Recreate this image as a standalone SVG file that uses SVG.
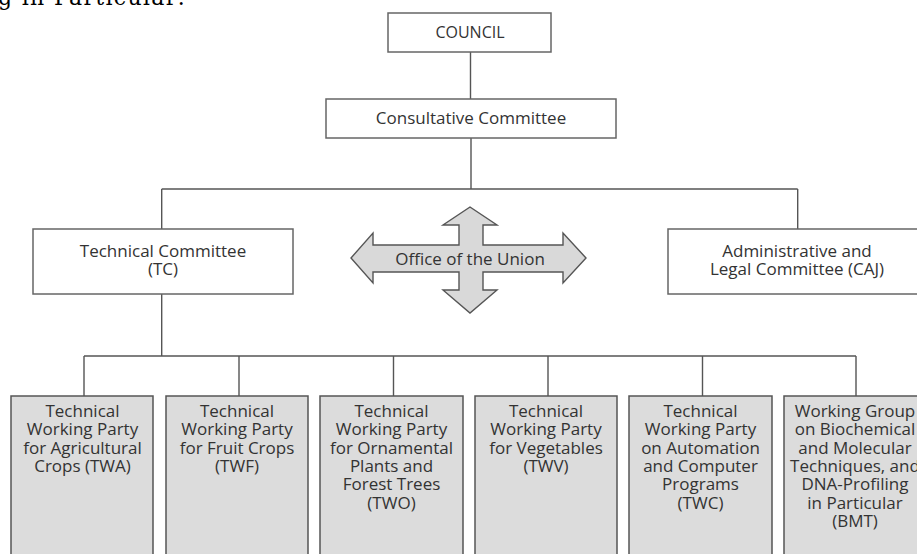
<svg xmlns="http://www.w3.org/2000/svg" width="917" height="554" viewBox="0 0 917 554">
<style>
.box{fill:#fff;stroke:#666;stroke-width:1.5}
.gbox{fill:#dcdcdc;stroke:#555;stroke-width:1.5}
.ln{fill:none;stroke:#555;stroke-width:1.4}
text{font-family:"Open Sans","Noto Sans",sans-serif;font-size:17px;fill:#333;text-anchor:middle}
.frag{font-family:"DejaVu Serif",serif;font-size:22px;fill:#000;text-anchor:start}
</style>
<rect width="917" height="554" fill="#fff"/>
<text class="frag" x="-2" y="5" textLength="187">g in Particular:</text>
<g id="connectors">
<path class="ln" d="M470.5 52V99M471 138V189M161.7 189H797.7M161.7 189V229M797.7 189V229M161.7 294V356M84 356H856M84 356V396M239 356V396M393.5 356V396M548 356V396M702.5 356V396M856 356V396"/>
</g>
<g id="council"><rect class="box" x="388" y="13" width="163" height="39"/><text x="470" y="38" style="font-size:16px">COUNCIL</text></g>
<g id="consultative"><rect class="box" x="326" y="99" width="290" height="39"/><text x="471" y="124">Consultative Committee</text></g>
<g id="tc"><rect class="box" x="33" y="229" width="260" height="65"/><text x="163" y="257">Technical Committee</text><text x="163" y="275">(TC)</text></g>
<g id="caj"><rect class="box" x="668" y="229" width="262" height="65"/><text x="797" y="257">Administrative and</text><text x="797" y="275">Legal Committee (CAJ)</text></g>
<g id="office">
<path d="M470 207L497 225H483V245H563V233L586 258L563 283V272H483V290H497L470 313L443 290H459V272H373V283L351 258L373 233V245H459V225H443Z" fill="#d9d9d9" stroke="#555" stroke-width="1.4" stroke-linejoin="miter"/>
<text x="470" y="265">Office of the Union</text>
</g>
<g id="twa"><rect class="gbox" x="11" y="396" width="142" height="170"/><text x="82.5" y="417">Technical</text><text x="82.5" y="435.3">Working Party</text><text x="82.5" y="453.6">for Agricultural</text><text x="82.5" y="472">Crops (TWA)</text></g>
<g id="twf"><rect class="gbox" x="166" y="396" width="142" height="170"/><text x="237" y="417">Technical</text><text x="237" y="435.3">Working Party</text><text x="237" y="453.6">for Fruit Crops</text><text x="237" y="472">(TWF)</text></g>
<g id="two"><rect class="gbox" x="320" y="396" width="143" height="170"/><text x="391.5" y="417">Technical</text><text x="391.5" y="435.3">Working Party</text><text x="391.5" y="453.6">for Ornamental</text><text x="391.5" y="472">Plants and</text><text x="391.5" y="490.3">Forest Trees</text><text x="391.5" y="508.6">(TWO)</text></g>
<g id="twv"><rect class="gbox" x="475" y="396" width="142" height="170"/><text x="546" y="417">Technical</text><text x="546" y="435.3">Working Party</text><text x="546" y="453.6">for Vegetables</text><text x="546" y="472">(TWV)</text></g>
<g id="twc"><rect class="gbox" x="629" y="396" width="143" height="170"/><text x="700.5" y="417">Technical</text><text x="700.5" y="435.3">Working Party</text><text x="700.5" y="453.6">on Automation</text><text x="700.5" y="472">and Computer</text><text x="700.5" y="490.3">Programs</text><text x="700.5" y="508.6">(TWC)</text></g>
<g id="bmt"><rect class="gbox" x="784" y="396" width="143" height="170"/><text x="855" y="417">Working Group</text><text x="855" y="435.3">on Biochemical</text><text x="855" y="453.6">and Molecular</text><text x="855" y="472">Techniques, and</text><text x="855" y="490.3">DNA-Profiling</text><text x="855" y="508.6">in Particular</text><text x="855" y="527">(BMT)</text></g>
</svg>
